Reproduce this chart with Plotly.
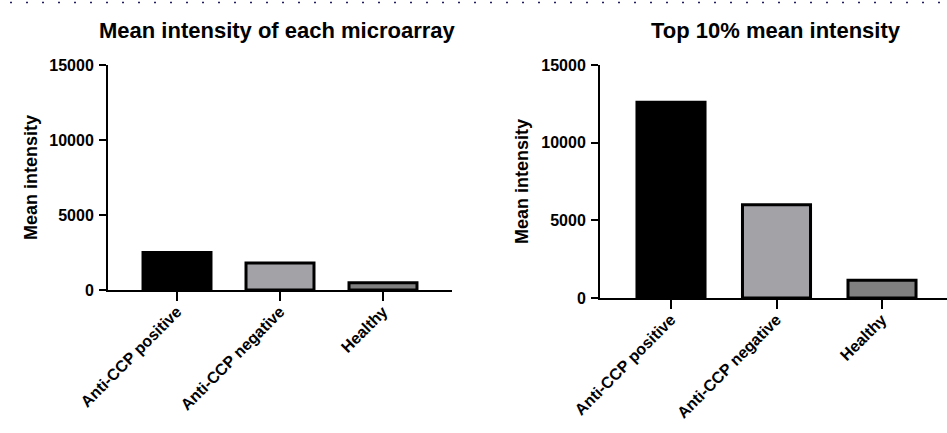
import plotly.graph_objects as go

categories = ["Anti-CCP positive", "Anti-CCP negative", "Healthy"]
mean_all = [2500, 1800, 480]
mean_top10 = [12600, 6000, 1150]
bar_colors = ["#000000", "#a3a2a7", "#808080"]
y_ticks = [0, 5000, 10000, 15000]
y_tick_labels = ["0", "5000", "10000", "15000"]
titles = ["Mean intensity of each microarray", "Top 10% mean intensity"]
y_title = "Mean intensity"

W, H = 947, 433
FONT = "Liberation Sans, Arial, sans-serif"

fig = go.Figure()
fig.add_trace(go.Bar(x=categories, y=mean_all, width=0.66,
                     marker=dict(color=bar_colors, line=dict(color="black", width=3)),
                     xaxis="x", yaxis="y", showlegend=False))
fig.add_trace(go.Bar(x=categories, y=mean_top10, width=0.645,
                     marker=dict(color=bar_colors, line=dict(color="black", width=3)),
                     xaxis="x2", yaxis="y2", showlegend=False))

def px_x(p):
    return p / W

def px_y(p):
    return 1 - p / H

tickfont = dict(family=FONT, size=16, color="black", weight="bold")
common_x = dict(type="category", showline=True, linecolor="black", linewidth=2,
                ticks="outside", ticklen=9, tickwidth=2, tickcolor="black",
                tickangle=-45, tickfont=tickfont, showgrid=False, zeroline=False,
                automargin=False, fixedrange=True, ticklabelstandoff=-5)
common_y = dict(showline=True, linecolor="black", linewidth=2, ticks="outside",
                ticklen=7, tickwidth=2, tickcolor="black", tickvals=y_ticks,
                ticktext=y_tick_labels, tickfont=tickfont, showgrid=False,
                zeroline=False, range=[0, 15000], automargin=False,
                ticklabelstandoff=2)

fig.update_layout(
    width=W, height=H, margin=dict(l=0, r=0, t=0, b=0),
    paper_bgcolor="white", plot_bgcolor="white",
    xaxis=dict(common_x, domain=[px_x(108), px_x(452)], range=[-0.67, 2.67], anchor="y"),
    yaxis=dict(common_y, domain=[px_y(290), px_y(65)], anchor="x"),
    xaxis2=dict(common_x, domain=[px_x(600), 1.0], range=[-0.673, 2.616], anchor="y2"),
    yaxis2=dict(common_y, domain=[px_y(298), px_y(65)], anchor="x2"),
    bargap=0.3,
)

annos = [
    dict(text=titles[0], x=px_x(277), y=px_y(31), xref="paper", yref="paper",
         showarrow=False, xanchor="center", yanchor="middle",
         font=dict(family=FONT, size=22, color="black", weight="bold")),
    dict(text=titles[1], x=px_x(776), y=px_y(31), xref="paper", yref="paper",
         showarrow=False, xanchor="center", yanchor="middle",
         font=dict(family=FONT, size=22, color="black", weight="bold")),
    dict(text=y_title, x=px_x(31), y=px_y(178), xref="paper", yref="paper",
         showarrow=False, textangle=-90, xanchor="center", yanchor="middle",
         font=dict(family=FONT, size=18, color="black", weight="bold")),
    dict(text=y_title, x=px_x(522), y=px_y(182), xref="paper", yref="paper",
         showarrow=False, textangle=-90, xanchor="center", yanchor="middle",
         font=dict(family=FONT, size=18, color="black", weight="bold")),
]
fig.update_layout(annotations=annos)

fig.add_shape(type="line", xref="paper", yref="paper", x0=px_x(10), x1=1.0,
              y0=px_y(2.5), y1=px_y(2.5),
              line=dict(color="#1e1e60", width=1.5, dash="2px,14px"))

fig.write_html(
    "out.html",
    config={"displayModeBar": False, "staticPlot": True},
    post_script="document.body.style.margin='0';document.body.style.overflow='hidden';",
)
